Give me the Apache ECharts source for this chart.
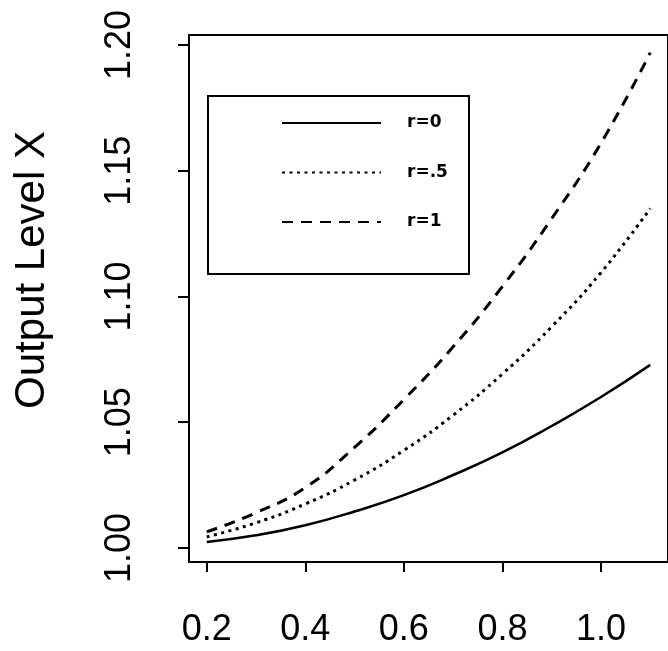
<!DOCTYPE html>
<html>
<head>
<meta charset="utf-8">
<script src="https://cdn.jsdelivr.net/npm/echarts@6/dist/echarts.min.js"></script>
<style>
html,body{margin:0;padding:0;background:#fff;}
#chart{width:668px;height:651px;}
</style>
</head>
<body>
<div id="chart"></div>
<script>
// ---- data ----
var xValues = [0.2, 0.3, 0.4, 0.5, 0.6, 0.7, 0.8, 0.9, 1.0, 1.1];
var r0Values  = [1.0024, 1.0050, 1.0090, 1.0145, 1.0210, 1.0290, 1.0380, 1.0485, 1.0600, 1.0728];
var r05Values = [1.0044, 1.0100, 1.0175, 1.0270, 1.0388, 1.0528, 1.0692, 1.0880, 1.1095, 1.1350];
var r1Values  = [1.0064, 1.0140, 1.0240, 1.0400, 1.0590, 1.0800, 1.1040, 1.1310, 1.1610, 1.1970];
var seriesNames = ['r=0', 'r=.5', 'r=1'];
var xTickValues = [0.2, 0.4, 0.6, 0.8, 1.0];
var yTickValues = [1.00, 1.05, 1.10, 1.15, 1.20];
var yAxisTitle = 'Output Level X';

function pairs(ys){ return xValues.map(function(x,i){ return [x, ys[i]]; }); }

var FONT = "'Liberation Sans', Arial, Helvetica, sans-serif";
var chart = echarts.init(document.getElementById('chart'), null, {renderer:'canvas'});
var option = {
  animation: false,
  backgroundColor: '#fff',
  grid: {
    left: 189, top: 35, right: -12, bottom: 89,
    show: true, borderColor: '#000', borderWidth: 2, backgroundColor: 'transparent'
  },
  xAxis: {
    type: 'value', min: 0.164, max: 1.136,
    axisLine: {show: false},
    splitLine: {show: false},
    axisTick: {show: true, customValues: xTickValues, length: 10, lineStyle: {color: '#000', width: 2}},
    axisLabel: {
      customValues: xTickValues, margin: 50, color: '#000',
      fontFamily: FONT, fontSize: 36,
      formatter: function(v){ return v.toFixed(1); }
    }
  },
  yAxis: {
    type: 'value', min: 0.9944, max: 1.204,
    axisLine: {show: false},
    splitLine: {show: false},
    axisTick: {show: true, customValues: yTickValues, length: 11, lineStyle: {color: '#000', width: 2}},
    axisLabel: {
      customValues: yTickValues, margin: 51, rotate: 90, color: '#000',
      fontFamily: FONT, fontSize: 36,
      formatter: function(v){ return v.toFixed(2); }
    }
  },
  legend: {
    data: seriesNames,
    orient: 'vertical',
    left: 281, top: 113,
    padding: 0,
    itemWidth: 99, itemHeight: 20, itemGap: 29.5,
    itemStyle: {opacity: 0},
    textStyle: {
      color: '#000', fontFamily: "'DejaVu Sans', sans-serif", fontWeight: 'bold',
      fontSize: 17, lineHeight: 20, padding: [0, 0, 0, 21]
    }
  },
  graphic: [
    {
      type: 'rect', left: 207, top: 95, z: 0,
      shape: {width: 261, height: 178},
      style: {fill: 'transparent', stroke: '#000', lineWidth: 2}
    },
    {
      type: 'text', x: 32, y: 270, rotation: Math.PI/2,
      style: {
        text: yAxisTitle, fill: '#000', font: '42px ' + FONT,
        align: 'center', verticalAlign: 'middle'
      }
    }
  ],
  series: [
    {
      name: seriesNames[0], type: 'line', data: pairs(r0Values), smooth: true,
      symbol: 'none', color: '#000',
      lineStyle: {color: '#000', width: 2.5, type: 'solid'}
    },
    {
      name: seriesNames[1], type: 'line', data: pairs(r05Values), smooth: true,
      symbol: 'none', color: '#000',
      lineStyle: {color: '#000', width: 3, type: [3, 4.5]}
    },
    {
      name: seriesNames[2], type: 'line', data: pairs(r1Values), smooth: true,
      symbol: 'none', color: '#000',
      lineStyle: {color: '#000', width: 3, type: [11, 8]}
    }
  ]
};
chart.setOption(option);
</script>
</body>
</html>
